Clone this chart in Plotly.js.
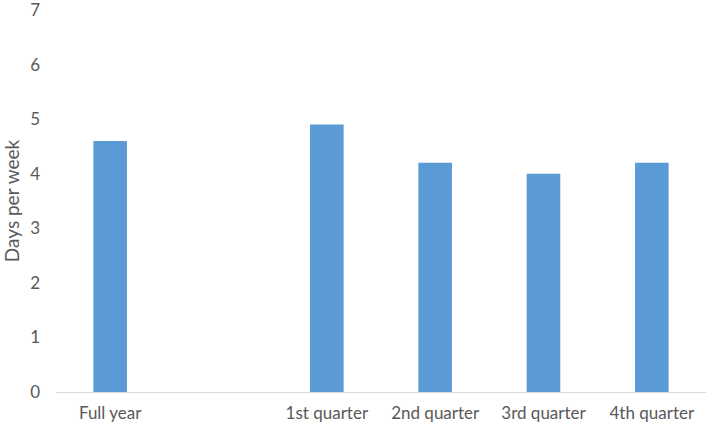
<!DOCTYPE html>
<html><head><meta charset="utf-8">
<script src="https://cdn.plot.ly/plotly-3.0.1.min.js"></script>
<style>html,body{margin:0;padding:0;background:#fff}#chart{width:709px;height:429px}</style>
</head><body><div id="chart"></div>
<script>
const categories = ["Full year", " ", "1st quarter", "2nd quarter", "3rd quarter", "4th quarter"];
const daysPerWeek = [4.6, null, 4.9, 4.2, 4.0, 4.2];
const yTicks = [0, 1, 2, 3, 4, 5, 6, 7];

Plotly.newPlot("chart", [{
  type: "bar",
  x: categories,
  y: daysPerWeek,
  marker: {color: "#5B9BD5"},
  hoverinfo: "none"
}], {
  width: 709, height: 429,
  margin: {l: 56, r: 3, t: 10, b: 37},
  paper_bgcolor: "#fff", plot_bgcolor: "#fff",
  bargap: 0.69,
  font: {family: "Lato, sans-serif", size: 17, color: "#595959"},
  xaxis: {
    type: "category",
    showline: true, linecolor: "#d9d9d9", linewidth: 1,
    showgrid: false, ticks: "", tickfont: {size: 17, color: "#595959"},
    ticklabelstandoff: 6
  },
  yaxis: {
    range: [0, 7], tickvals: yTicks, showgrid: false, zeroline: false,
    showline: false, ticks: "", ticklabelstandoff: 15,
    ticklabeloverflow: "allow",
    tickfont: {size: 17, color: "#595959"},
    title: {text: "Days per week", font: {size: 19, color: "#595959"}, standoff: 12}
  },
  showlegend: false
}, {displayModeBar: false, staticPlot: true});
</script></body></html>
